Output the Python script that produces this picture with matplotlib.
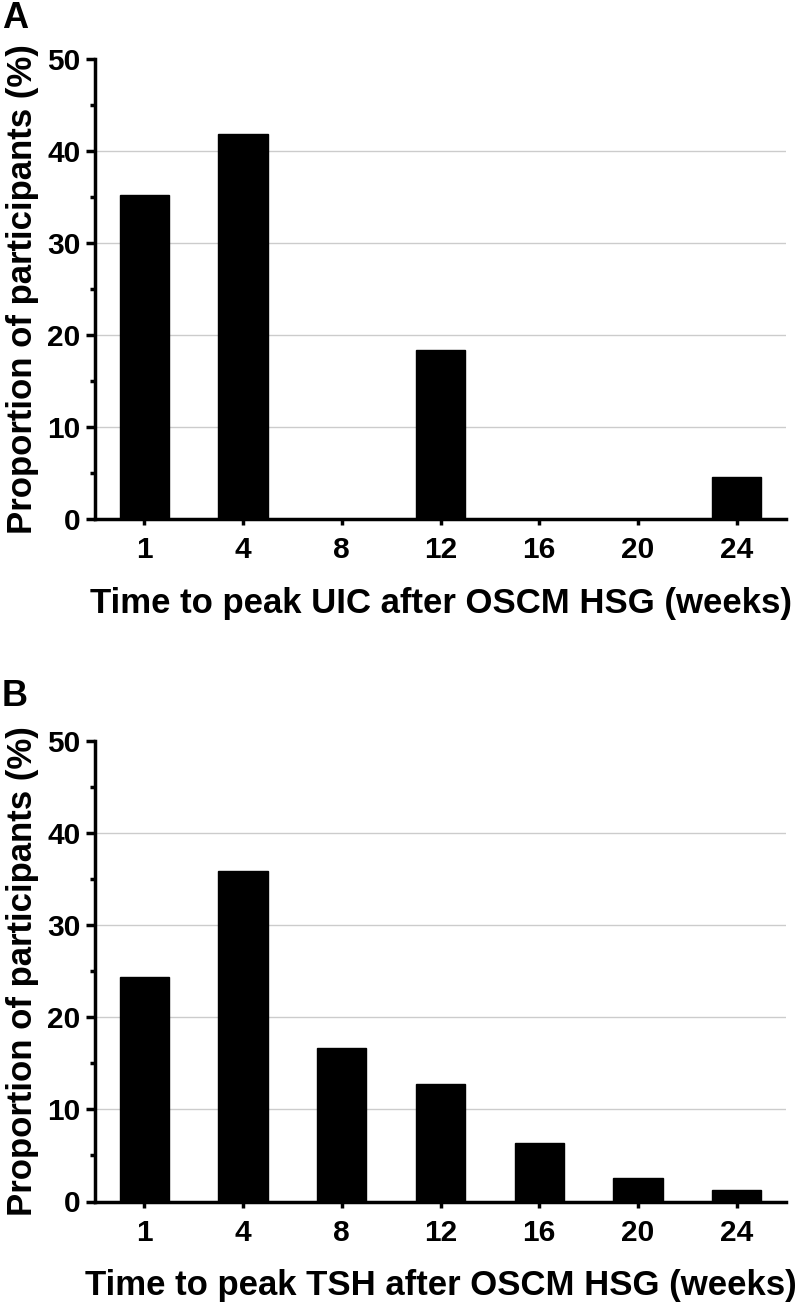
import matplotlib
matplotlib.use("Agg")
import matplotlib.pyplot as plt
import numpy as np
from matplotlib.ticker import MultipleLocator

plt.rcParams['font.family'] = ['Liberation Sans', 'DejaVu Sans']
plt.rcParams['font.weight'] = 'bold'

# Datos
semanas = ["1", "4", "8", "12", "16", "20", "24"]
uic_pct = [35.2, 41.8, 0, 18.4, 0, 0, 4.6]
tsh_pct = [24.4, 35.9, 16.7, 12.8, 6.4, 2.6, 1.3]
paneles = ["A", "B"]
xlabels = ["Time to peak UIC after OSCM HSG (weeks)",
           "Time to peak TSH after OSCM HSG (weeks)"]
ylabel = "Proportion of participants (%)"

fig = plt.figure(figsize=(8, 13.04), dpi=100)
ax_a = fig.add_axes([95/800, 1 - 519/1304, 691/800, 460/1304])
ax_b = fig.add_axes([95/800, 1 - 1201.5/1304, 691/800, 460.5/1304])

x = np.arange(len(semanas))
for ax, valores, xl in zip([ax_a, ax_b], [uic_pct, tsh_pct], xlabels):
    ax.bar(x, valores, width=0.5, color="black", edgecolor="black", zorder=3)
    ax.set_xlim(-0.5, 6.5)
    ax.set_ylim(0, 50)
    ax.set_xticks(x)
    ax.set_xticklabels(semanas)
    ax.yaxis.set_major_locator(MultipleLocator(10))
    ax.yaxis.set_minor_locator(MultipleLocator(5))
    # lineas de cuadricula grises
    for g in [10, 20, 30, 40]:
        ax.axhline(g, color="#cccccc", lw=1.0, zorder=1)
    for s in ["top", "right"]:
        ax.spines[s].set_visible(False)
    for s in ["left", "bottom"]:
        ax.spines[s].set_linewidth(2.5)
    ax.tick_params(axis="y", which="major", length=6.5, width=2.5, labelsize=21.5, pad=4)
    ax.tick_params(axis="y", which="minor", length=3.5, width=2.5)
    ax.tick_params(axis="x", which="major", length=4.5, width=2.5, labelsize=21.5, pad=8)
    ax.set_xlabel(xl, fontsize=25, fontweight="bold", labelpad=16)
    ax.set_ylabel(ylabel, fontsize=25, fontweight="bold", labelpad=6)

fig.text(0.002, 0.999, "A", fontsize=26, fontweight="bold", va="top", ha="left")
fig.text(0.002, 1 - 679/1304, "B", fontsize=26, fontweight="bold", va="top", ha="left")

plt.savefig("out.png", dpi=100)
